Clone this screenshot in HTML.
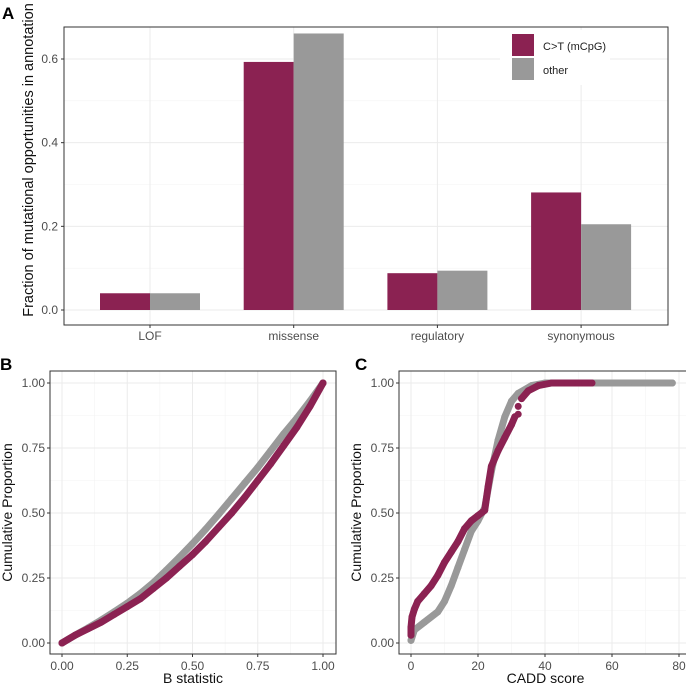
<!DOCTYPE html>
<html><head><meta charset="utf-8"><style>
body{margin:0;background:#fff;}
svg{display:block;font-family:"Liberation Sans",sans-serif;}
.tick{font-size:12px;fill:#4d4d4d;}
.grid{stroke:#ebebeb;stroke-width:1;}
.gridm{stroke:#f3f3f3;stroke-width:0.6;}
</style></head><body>
<svg id="chart" width="686" height="689">
<text x="2" y="19" font-size="17" font-weight="bold">A</text>
<text x="0" y="370" font-size="17" font-weight="bold">B</text>
<text x="355" y="370" font-size="17" font-weight="bold">C</text>
<g id="pa"></g><g id="pb"></g><g id="pc"></g>
</svg>
<script>
const categories=["LOF","missense","regulatory","synonymous"];
const ctValues=[0.04,0.593,0.088,0.281];
const otherValues=[0.04,0.661,0.094,0.205];
const aTicks=[0,0.2,0.4,0.6];
const aTickLabels=["0.0","0.2","0.4","0.6"];
const bX1=[0,0.05,0.1,0.15,0.2,0.25,0.3,0.35,0.4,0.45,0.5,0.55,0.6,0.65,0.7,0.75,0.8,0.85,0.9,0.95,1];
const bY1=[0,0.03,0.055,0.08,0.11,0.14,0.17,0.21,0.25,0.295,0.34,0.39,0.445,0.5,0.56,0.625,0.69,0.76,0.83,0.91,1];
const bX2=[0,0.05,0.1,0.15,0.2,0.25,0.3,0.35,0.4,0.45,0.5,0.55,0.6,0.65,0.7,0.75,0.8,0.85,0.9,0.95,1];
const bY2=[0,0.03,0.058,0.088,0.12,0.153,0.19,0.232,0.28,0.33,0.382,0.437,0.495,0.555,0.615,0.675,0.74,0.805,0.865,0.93,1];
const cX1=[0,0,0.3,1,2,4,6,8,10,12,14,16,18,20,22,23,24,26,28,30,31,32,32,33,35,38,42,45,48,50,52,54];
const cY1=[0.03,0.06,0.1,0.13,0.16,0.19,0.22,0.26,0.31,0.35,0.39,0.44,0.47,0.49,0.51,0.6,0.68,0.74,0.79,0.84,0.87,0.88,0.91,0.94,0.97,0.99,1,1,1,1,1,1];
const cX2=[0,1,4,8,10,12,14,16,18,20,22,24,26,28,30,32,36,40,45,50,55,60,65,70,75,78];
const cY2=[0.01,0.05,0.08,0.12,0.16,0.22,0.29,0.36,0.43,0.47,0.52,0.66,0.78,0.87,0.93,0.96,0.99,1,1,1,1,1,1,1,1,1];
const bTicks=[0,0.25,0.5,0.75,1];const bTickLabels=["0.00","0.25","0.50","0.75","1.00"];
const cTicks=[0,20,40,60,80];const cTickLabels=["0","20","40","60","80"];
const yTicks=[0,0.25,0.5,0.75,1];const yTickLabels=["0.00","0.25","0.50","0.75","1.00"];
const NS="http://www.w3.org/2000/svg";
function mk(p,t,a){const e=document.createElementNS(NS,t);for(const k in a)e.setAttribute(k,a[k]);p.appendChild(e);return e;}
const PURPLE="#8b2252",GRAY="#999999";
const pa=document.getElementById('pa');
const ay=v=>310-v*(251/0.6);
const ax=i=>150+i*143.7;
for(let v=0.1;v<0.7;v+=0.2){const g=mk(pa,'line',{x1:64,x2:668,y1:ay(v),y2:ay(v),class:'gridm'});}
aTicks.forEach((v,i)=>{const g=mk(pa,'line',{x1:64,x2:668,y1:ay(v),y2:ay(v),class:'grid'});
const t=mk(pa,'text',{x:58,y:ay(v)+4,'text-anchor':'end',class:'tick'});t.textContent=aTickLabels[i];
mk(pa,'line',{x1:61,x2:64,y1:ay(v),y2:ay(v),stroke:'#333'});});
categories.forEach((c,i)=>{mk(pa,'line',{x1:ax(i),x2:ax(i),y1:27,y2:325,class:'grid'});
const r1=mk(pa,'rect',{x:ax(i)-50,y:ay(ctValues[i]),width:50,height:ay(0)-ay(ctValues[i]),fill:PURPLE});
const r2=mk(pa,'rect',{x:ax(i),y:ay(otherValues[i]),width:50,height:ay(0)-ay(otherValues[i]),fill:GRAY});
mk(pa,'line',{x1:ax(i),x2:ax(i),y1:325,y2:328,stroke:'#333'});
const t=mk(pa,'text',{x:ax(i),y:340,'text-anchor':'middle',class:'tick'});t.textContent=c;});
mk(pa,'rect',{x:64,y:27,width:604,height:298,fill:'none',stroke:'#333','stroke-width':1});
const lg=mk(pa,'g',{});
mk(lg,'rect',{x:500,y:30,width:110,height:55,fill:'#fff'});
mk(lg,'rect',{x:512,y:34,width:22,height:22,fill:PURPLE});mk(lg,'rect',{x:512,y:58,width:22,height:22,fill:GRAY});
let lt=mk(lg,'text',{x:543,y:50,'font-size':'11',fill:'#222'});lt.textContent='C>T (mCpG)';
lt=mk(lg,'text',{x:543,y:74,'font-size':'11',fill:'#222'});lt.textContent='other';
let at=mk(pa,'text',{transform:'translate(33,160) rotate(-90)','text-anchor':'middle','font-size':'14.5',fill:'#111'});at.textContent='Fraction of mutational opportunities in annotation';
function panel(g,x0,x1,xmin,xmax,xt,xtl,title,series){
 const top=371,bot=654;const px=v=>x0+(v-xmin)/(xmax-xmin)*(x1-x0);const py=v=>643-v*260;
 const L=x0-12,R=x1+13;
 for(let i=0;i<yTicks.length-1;i++){mk(g,'line',{x1:L,x2:R,y1:py((yTicks[i]+yTicks[i+1])/2),y2:py((yTicks[i]+yTicks[i+1])/2),class:'gridm'});}
 for(let i=0;i<xt.length-1;i++){const m=px((xt[i]+xt[i+1])/2);mk(g,'line',{x1:m,x2:m,y1:top,y2:bot,class:'gridm'});}
 yTicks.forEach((v,i)=>{mk(g,'line',{x1:L,x2:R,y1:py(v),y2:py(v),class:'grid'});mk(g,'line',{x1:L-3,x2:L,y1:py(v),y2:py(v),stroke:'#333'});
  const t=mk(g,'text',{x:L-5,y:py(v)+4,'text-anchor':'end',class:'tick'});t.textContent=yTickLabels[i];});
 xt.forEach((v,i)=>{mk(g,'line',{x1:px(v),x2:px(v),y1:top,y2:bot,class:'grid'});mk(g,'line',{x1:px(v),x2:px(v),y1:bot,y2:bot+3,stroke:'#333'});
  const t=mk(g,'text',{x:px(v),y:bot+16,'text-anchor':'middle',class:'tick'});t.textContent=xtl[i];});
 series.forEach(s=>{const pts=s.x.map((v,i)=>px(v)+','+py(s.y[i])).join(' ');
  const pl=mk(g,'polyline',{points:s.line?pts:'',fill:'none',stroke:s.c,'stroke-width':s.w||7,'stroke-linejoin':'round','stroke-linecap':'round'});
  s.x.forEach((v,i)=>{const c=mk(g,'circle',{cx:px(v),cy:py(s.y[i]),r:3.5,fill:s.c});});});
 mk(g,'rect',{x:L,y:top,width:R-L,height:bot-top,fill:'none',stroke:'#333'});
 let t=mk(g,'text',{x:(L+R)/2,y:683,'text-anchor':'middle','font-size':'14',fill:'#111'});t.textContent=title;
 t=mk(g,'text',{transform:`translate(${L-38},${(top+bot)/2}) rotate(-90)`,'text-anchor':'middle','font-size':'14',fill:'#111'});t.textContent='Cumulative Proportion';
}
panel(document.getElementById('pb'),62,323,0,1,bTicks,bTickLabels,'B statistic',[{x:bX2,y:bY2,c:GRAY,n:'other',line:1},{x:bX1,y:bY1,c:PURPLE,n:'ct',line:1}]);
panel(document.getElementById('pc'),411,679,0,80,cTicks,cTickLabels,'CADD score',[{x:cX2,y:cY2,c:GRAY,n:'other',line:1},{x:cX1.slice(0,21),y:cY1.slice(0,21),c:PURPLE,n:'ct',line:1},{x:cX1.slice(23),y:cY1.slice(23),c:PURPLE,n:'ct-tail',line:1},{x:cX1.slice(21,23),y:cY1.slice(21,23),c:PURPLE,n:'ct-gap',line:0}]);
</script>
</body></html>
